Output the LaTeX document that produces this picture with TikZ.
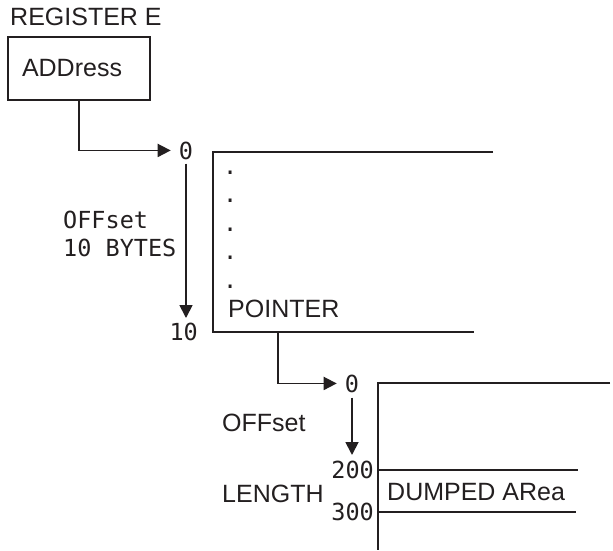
\documentclass[tikz,border=0pt]{standalone}
\usepackage{fontspec}
\setmainfont{Liberation Sans}
\newfontfamily\monofont{DejaVu Sans Mono}
\usetikzlibrary{positioning,arrows.meta}
\definecolor{ink}{RGB}{35,31,32}

\begin{document}
\begin{tikzpicture}[x=1pt,y=-1pt,
  every node/.style={inner sep=0pt,text=ink},
  sans/.style={font=\fontsize{25}{30}\selectfont,anchor=base west},
  mono/.style={font=\monofont\fontsize{23.5}{28}\selectfont,anchor=base west},
  wall/.style={draw=ink,line width=1.8pt},
  link/.style={wall,-{Triangle[length=13pt,width=13pt]}}
]
\useasboundingbox (0,0) rectangle (613,550);
% register
\node[sans] (reg) at (10,25) {REGISTER E};
\node[draw=ink,line width=1.8pt,minimum height=63pt,text width=114pt,inner xsep=14pt,align=left,
  font=\fontsize{25}{30}\selectfont] (addr) at (79,68.5) {ADDress};
% first area
\node[mono,anchor=base] (zeroA) at (186,159) {0};
\node[mono,anchor=base east] (ten) at (198,340) {10};
\node[mono] (offA) at (63,228) {OFFset};
\node[mono] (bytes) at (63,256) {10 BYTES};
\draw[wall] (493,152) -- (213,152) -- (213,332) -- (474,332);
\foreach \i in {0,...,4}
  \node[mono] (dot\i) at (223,{174+28.5*\i}) {.};
\node[sans] (ptr) at (228,317) {POINTER};
\coordinate (ptrout) at (278,332);
\draw[link,shorten >=8pt] (addr.south) |- (zeroA.west);
\draw[link,shorten <=4pt] (zeroA.south) -- (zeroA.south |- 0,318);
% dumped area
\node[mono,anchor=base] (zeroB) at (352,392) {0};
\node[mono,anchor=base east] (lo) at (374,478) {200};
\node[mono,anchor=base east] (hi) at (374,520) {300};
\node[sans] (offB) at (222,431) {OFFset};
\node[sans] (len) at (222,502) {LENGTH};
\node[sans] (dump) at (387,500) {DUMPED ARea};
\draw[wall] (610,383) -- (378,383) -- (378,550);
\draw[wall] (378,470) -- (578,470);
\draw[wall] (378,512) -- (576,512);
\draw[link,shorten >=8pt] (ptrout) |- (zeroB.west);
\draw[link,shorten <=5pt] (zeroB.south) -- (zeroB.south |- 0,455);
\end{tikzpicture}
\end{document}
